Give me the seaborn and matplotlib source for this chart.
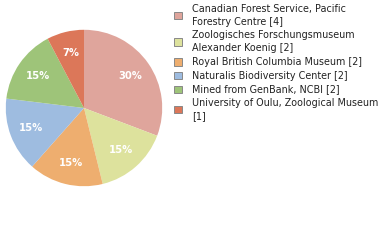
import matplotlib
matplotlib.use("Agg")
import matplotlib.pyplot as plt
import seaborn as sns
import numpy as np
from matplotlib.patches import Rectangle

sns.set_style("white")
plt.rcParams['font.family'] = ['DejaVu Sans']

labels = ["Canadian Forest Service, Pacific\nForestry Centre [4]",
          "Zoologisches Forschungsmuseum\nAlexander Koenig [2]",
          "Royal British Columbia Museum [2]",
          "Naturalis Biodiversity Center [2]",
          "Mined from GenBank, NCBI [2]",
          "University of Oulu, Zoological Museum\n[1]"]
counts = [4, 2, 2, 2, 2, 1]
colors = ["#DFA59C", "#DDE29D", "#EEAE6F", "#9EBCE0", "#9EC479", "#DC7759"]

W, H = 380, 240
fig = plt.figure(figsize=(W / 100, H / 100), dpi=100)
cx, cy, r = 84, 108, 79
ax = fig.add_axes([(cx - r) / W, (H - cy - r) / H, 2 * r / W, 2 * r / H])
total = sum(counts)
wedges, texts = ax.pie(counts, colors=colors, startangle=90, counterclock=False,
                       radius=1, wedgeprops=dict(linewidth=0))
ang = 90
for c in counts:
    span = 360 * c / total
    mid = np.deg2rad(ang - span / 2)
    ang -= span
    ax.text(0.72 * np.cos(mid), 0.72 * np.sin(mid), f"{int(100 * c / total)}%",
            ha="center", va="center", color="white", fontsize=7.2, fontweight="semibold")
ax.set_xlim(-1.01, 1.01)
ax.set_ylim(-1.01, 1.01)
ax.set_aspect("equal")
ax.axis("off")

# legend
y = 9.0
lh = 12.6
for lab, col in zip(labels, colors):
    lines = lab.split("\n")
    ys = [y + i * lh for i in range(len(lines))]
    for ln, yy in zip(lines, ys):
        fig.text(192 / W, 1 - yy / H, ln, ha="left", va="center", fontsize=6.9, color="#222222")
    ym = sum(ys) / len(ys)
    fig.patches.append(Rectangle((174 / W, 1 - (ym + 3.8) / H), 7.6 / W, 7.6 / H,
                                 transform=fig.transFigure, facecolor=col,
                                 edgecolor="#888888", linewidth=0.7))
    y = ys[-1] + lh + 1.2

fig.savefig("out.png", dpi=100)
